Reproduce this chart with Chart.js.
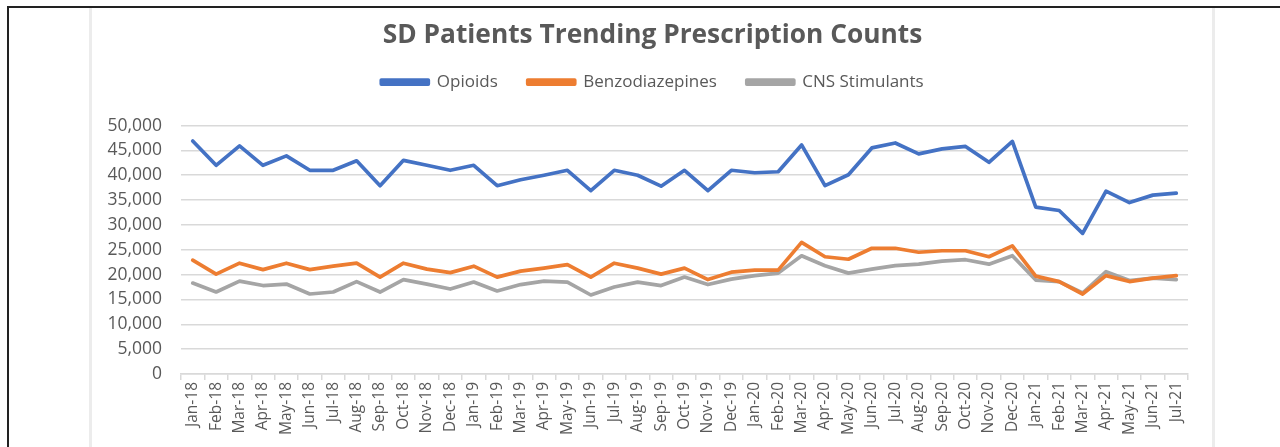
<!DOCTYPE html>
<html>
<head>
<meta charset="utf-8">
<script src="https://cdn.jsdelivr.net/npm/chart.js@4.4.1/dist/chart.umd.min.js"></script>
<style>
  html, body { margin: 0; padding: 0; background: #fff; }
  #wrap { position: relative; width: 1280px; height: 447px; overflow: hidden; }
  #frameTop { position: absolute; left: 7px; top: 6px; width: 1273px; height: 2px; background: #222; }
  #frameLeft { position: absolute; left: 7px; top: 6px; width: 2px; height: 441px; background: #222; }
  #boxL { position: absolute; left: 89px; top: 8px; width: 3px; height: 439px; background: #ececec; }
  #boxR { position: absolute; left: 1212px; top: 8px; width: 3px; height: 439px; background: #ececec; }
  canvas { position: absolute; left: 0; top: 0; }
</style>
</head>
<body>
<div id="wrap">
  <canvas id="c" width="1280" height="447"></canvas>
  <div id="frameTop"></div>
  <div id="frameLeft"></div>
  <div id="boxL"></div>
  <div id="boxR"></div>
</div>
<script>
const months = ["Jan-18","Feb-18","Mar-18","Apr-18","May-18","Jun-18","Jul-18","Aug-18","Sep-18","Oct-18","Nov-18","Dec-18",
  "Jan-19","Feb-19","Mar-19","Apr-19","May-19","Jun-19","Jul-19","Aug-19","Sep-19","Oct-19","Nov-19","Dec-19",
  "Jan-20","Feb-20","Mar-20","Apr-20","May-20","Jun-20","Jul-20","Aug-20","Sep-20","Oct-20","Nov-20","Dec-20",
  "Jan-21","Feb-21","Mar-21","Apr-21","May-21","Jun-21","Jul-21"];

const opioids = [46900,42000,45900,42000,43900,41000,41000,42900,37900,43000,42000,41000,
  42000,37900,39100,40000,41000,36900,41000,40000,37800,41000,36900,41000,
  40500,40700,46100,37900,40100,45500,46500,44300,45300,45800,42600,46800,
  33600,32900,28300,36800,34500,36000,36400];

const benzodiazepines = [22900,20100,22300,21000,22300,21000,21700,22300,19500,22300,21100,20400,
  21700,19500,20700,21300,22000,19500,22300,21300,20100,21300,19000,20500,
  20900,20900,26500,23600,23100,25300,25300,24500,24800,24800,23600,25800,
  19700,18600,16100,19800,18600,19300,19800];

const cnsStimulants = [18300,16500,18700,17800,18100,16100,16500,18600,16500,19000,18100,17100,
  18500,16700,18000,18700,18500,15900,17500,18500,17800,19500,18000,19100,
  19800,20300,23800,21800,20300,21100,21800,22100,22700,23000,22100,23800,
  18900,18600,16300,20600,18800,19300,19000];

const yTicks = [0,5000,10000,15000,20000,25000,30000,35000,40000,45000,50000];

const txt = '#595959';
const font = '"Open Sans", "Liberation Sans", sans-serif';

const legendGap = {
  id: 'legendGap',
  beforeUpdate(chart) {
    const lg = chart.legend;
    if (lg && !lg._gapPatched) {
      const orig = lg.fit;
      lg.fit = function () { orig.call(this); this.height += 25; };
      lg._gapPatched = true;
    }
  }
};

new Chart(document.getElementById('c'), {
  type: 'line',
  data: {
    labels: months,
    datasets: [
      { label: 'Opioids', data: opioids, borderColor: '#4472C4', backgroundColor: '#4472C4' },
      { label: 'Benzodiazepines', data: benzodiazepines, borderColor: '#ED7D31', backgroundColor: '#ED7D31' },
      { label: 'CNS Stimulants', data: cnsStimulants, borderColor: '#A5A5A5', backgroundColor: '#A5A5A5' }
    ]
  },
  plugins: [legendGap],
  options: {
    responsive: false,
    animation: false,
    devicePixelRatio: 1,
    elements: {
      line: { borderWidth: 3.7, tension: 0, borderCapStyle: 'round', borderJoinStyle: 'round' },
      point: { radius: 0, hoverRadius: 0 }
    },
    layout: { padding: { left: 92, right: 67, top: 20, bottom: 0 } },
    plugins: {
      title: {
        display: true,
        text: 'SD Patients Trending Prescription Counts',
        color: txt,
        font: { family: font, size: 26.3, weight: 'bold' },
        padding: { top: 0, bottom: -8 }
      },
      legend: {
        display: true,
        labels: {
          color: txt,
          font: { family: font, size: 17 },
          boxWidth: 47,
          boxHeight: 4,
          padding: 30
        }
      },
      tooltip: { enabled: false }
    },
    scales: {
      x: {
        type: 'category',
        offset: true,
        grid: { display: true, offset: true, drawOnChartArea: false, drawTicks: true, tickLength: 6, color: '#d9d9d9', lineWidth: 1.5 },
        border: { display: true, color: '#d9d9d9', width: 1.5 },
        ticks: { color: txt, font: { family: font, size: 15.5 }, minRotation: 90, maxRotation: 90, autoSkip: false, padding: 2 },
        afterFit: (s) => { s.height = 73; }
      },
      y: {
        min: 0, max: 50000,
        afterBuildTicks: (s) => { s.ticks = yTicks.map(v => ({ value: v })); },
        grid: { color: '#d9d9d9', lineWidth: 1.5, drawTicks: false },
        border: { display: false },
        ticks: { color: txt, font: { family: font, size: 17.5 }, padding: 19,
          callback: (v) => Number(v).toLocaleString('en-US') },
        afterFit: (s) => { s.width = 89; }
      },
      yR: {
        position: 'right',
        display: true,
        grid: { display: false, drawTicks: false },
        border: { display: false },
        ticks: { display: false },
        afterFit: (s) => { s.width = 25; }
      }
    }
  }
});
</script>
</body>
</html>
